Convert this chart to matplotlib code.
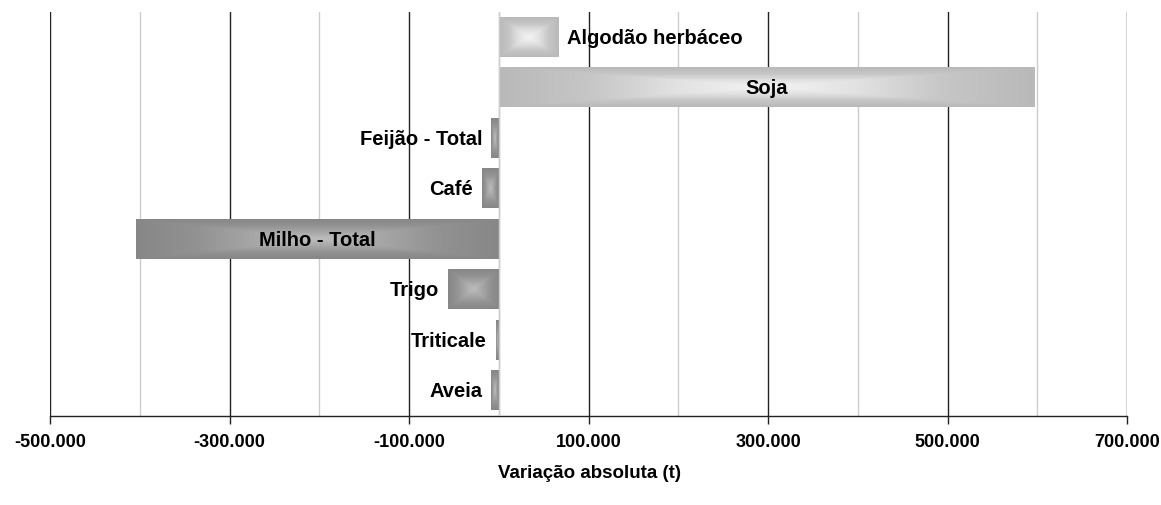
import numpy as np
import matplotlib
matplotlib.use("Agg")
import matplotlib.pyplot as plt
from matplotlib.colors import LinearSegmentedColormap

plt.rcParams['font.family'] = ['Liberation Sans', 'DejaVu Sans']

categories = ["Algodão herbáceo", "Soja", "Feijão - Total", "Café", "Milho - Total",
              "Trigo", "Triticale", "Aveia"]
values = [66000, 596500, -8600, -18500, -404000, -56000, -3000, -8600]
xticks = [-500000, -300000, -100000, 100000, 300000, 500000, 700000]
xtick_labels = ["-500.000", "-300.000", "-100.000", "100.000", "300.000", "500.000", "700.000"]
xlabel = "Variação absoluta (t)"

W, H = 1161, 506
fig = plt.figure(figsize=(W / 100, H / 100), dpi=100)
ax = fig.add_axes([50 / W, 1 - 417 / H, (1127 - 50) / W, (417 - 13) / H])
ax.set_xlim(-500000, 700000)
n = len(categories)
ax.set_ylim(n - 0.5, -0.5)

# gridlines
for x in range(-500000, 700001, 100000):
    major = (x // 100000) % 2 != 0
    ax.axvline(x, color='#222222' if major else '#cccccc', lw=1.0, zorder=0)

bar_h = 0.78
pos_cmap = LinearSegmentedColormap.from_list('pos', ['#b9b9b9', '#c6c6c6', '#e2e2e2', '#f4f4f4'])
neg_cmap = LinearSegmentedColormap.from_list('neg', ['#878787', '#929292', '#a8a8a8', '#bdbdbd'])

ny, nx = 60, 200
u = np.linspace(-1, 1, nx)[None, :]
w = np.linspace(-1, 1, ny)[:, None]
d = np.maximum(np.abs(u) * np.ones_like(w), np.abs(w) * np.ones_like(u))
img = 1 - d
for i, v in enumerate(values):
    x0, x1 = min(0, v), max(0, v)
    y0, y1 = i - bar_h / 2, i + bar_h / 2
    cmap = pos_cmap if v > 0 else neg_cmap
    ax.imshow(img, cmap=cmap, vmin=0, vmax=1, extent=[x0, x1, y1, y0],
              aspect='auto', interpolation='bilinear', zorder=2)

ax.axvline(0, color='#cccccc', lw=1.0, zorder=3)

# labels
off = 9 / 1077 * 1200000
fs = 14.5
for i, (c, v) in enumerate(zip(categories, values)):
    if c in ("Soja", "Milho - Total"):
        ax.text(v / 2, i, c, ha='center', va='center', fontsize=fs, fontweight='bold', zorder=4)
    elif v > 0:
        ax.text(v + off, i, c, ha='left', va='center', fontsize=fs, fontweight='bold', zorder=4)
    else:
        ax.text(v - off, i, c, ha='right', va='center', fontsize=fs, fontweight='bold', zorder=4)

ax.set_xticks(xticks)
ax.set_xticklabels(xtick_labels, fontsize=13, fontweight='bold')
ax.tick_params(axis='x', which='major', length=6, width=1, color='#222222', pad=6)
ax.set_yticks([])
for s in ['top', 'right', 'left']:
    ax.spines[s].set_visible(False)
ax.spines['bottom'].set_color('#222222')
ax.spines['bottom'].set_linewidth(1.0)

fig.text(590 / W, 1 - 473 / H, xlabel, ha='center', va='center', fontsize=13.5, fontweight='bold')

fig.savefig('out.png', dpi=100)
